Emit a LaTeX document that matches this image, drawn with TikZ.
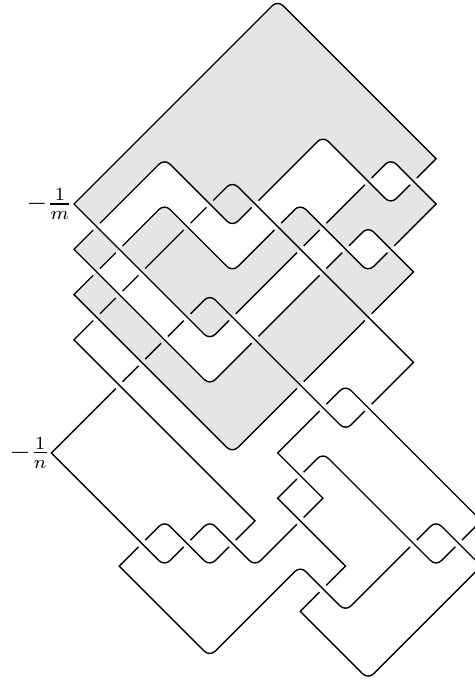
\documentclass[tikz,border=0pt]{standalone}
\usepackage{amsmath}
\tikzset{
  strand/.style={line width=0.7pt, shorten >=2.4pt, shorten <=2.4pt},
  rc/.style={rounded corners=3.8pt},
  sc/.style={sharp corners},
  shade/.style={fill=black!10, draw=none, even odd rule},
  twist/.style={anchor=east, inner sep=0.4pt, scale=1.33},
}
\begin{document}
\begin{tikzpicture}[x=0.4cm, y=-0.4cm]
\useasboundingbox (-3.27,-0.015) rectangle (17.72,30.08);

% shaded surface
\path[shade] (0,13) [rc] -- (7,20) [sc] -- (15,12) [rc] -- (13,10) -- (6,17) [sc] -- (0,11)
  [rc] -- (4,7) -- (7,10) -- (11,6) -- (14,9) [sc] -- (16,7) [rc] -- (9,0) [sc] -- (0,9)
  [rc] -- (6,15) -- (14,7) [sc] -- (16,9) [rc] -- (13,12) -- (10,9) -- (7,12) -- (4,9) [sc] -- cycle;

% first component, one arc between two undercrossings
\foreach \arc in {
  {(1,10) [rc] -- (4,7) -- (7,10) [sc] -- (8,9)},
  {(8,9) [rc] -- (11,6) -- (14,9) [sc] -- (15,8)},
  {(15,8) -- (16,7) [rc] -- (9,0) [sc] -- (0,9) [rc] -- (6,15) [sc] -- (7,14)},
  {(7,14) -- (10,11)},
  {(10,11) -- (11,10)},
  {(11,10) -- (13,8)},
  {(13,8) [rc] -- (14,7) [sc] -- (16,9) -- (14,11)},
  {(14,11) [rc] -- (13,12) -- (10,9) [sc] -- (9,10)},
  {(9,10) [rc] -- (7,12) -- (4,9) [sc] -- (2,11)},
  {(2,11) -- (1,12)},
  {(1,12) -- (0,13) [rc] -- (7,20) [sc] -- (10,17)},
  {(10,17) -- (13,14)},
  {(13,14) -- (15,12) [rc] -- (13,10) [sc] -- (12,11)},
  {(12,11) -- (11,12)},
  {(11,12) -- (8,15)},
  {(8,15) [rc] -- (6,17) [sc] -- (0,11) -- (1,10)}}
  \draw[strand] \arc;

% second component
\foreach \arc in {
  {(1,14) -- (2,13)},
  {(2,13) -- (3,12)},
  {(3,12) -- (5,10)},
  {(5,10) -- (6,9)},
  {(6,9) [rc] -- (7,8) [sc] -- (15,16) -- (13,18)},
  {(13,18) [rc] -- (12,19) -- (6,13) [sc] -- (5,14)},
  {(5,14) -- (4,15)},
  {(4,15) -- (3,16)},
  {(3,16) -- (2,17)},
  {(2,17) -- (-1,20) [rc] -- (4,25) [sc] -- (5,24)},
  {(5,24) [rc] -- (6,23) -- (8,25) [sc] -- (10,23)},
  {(10,23) -- (11,22) -- (9,20) -- (11,18)},
  {(11,18) [rc] -- (12,17) [sc] -- (18,23) -- (17,24)},
  {(17,24) [rc] -- (16,25) -- (11,20) [sc] -- (10,21)},
  {(10,21) -- (9,22) -- (12,25) -- (11,26)},
  {(11,26) -- (10,27) [rc] -- (13,30) [sc] -- (18,25) [rc] -- (16,23) [sc] -- (15,24)},
  {(15,24) [rc] -- (12,27) -- (10,25) -- (6,29) [sc] -- (2,25) -- (3,24)},
  {(3,24) [rc] -- (4,23) -- (6,25) [sc] -- (7,24)},
  {(7,24) -- (8,23) -- (0,15) -- (1,14)}}
  \draw[strand] \arc;

\node[twist] (labm) at (0,9) {$-\frac{1}{m}$};
\node[twist] (labn) at (-1,20) {$-\frac{1}{n}$};
\end{tikzpicture}
\end{document}
